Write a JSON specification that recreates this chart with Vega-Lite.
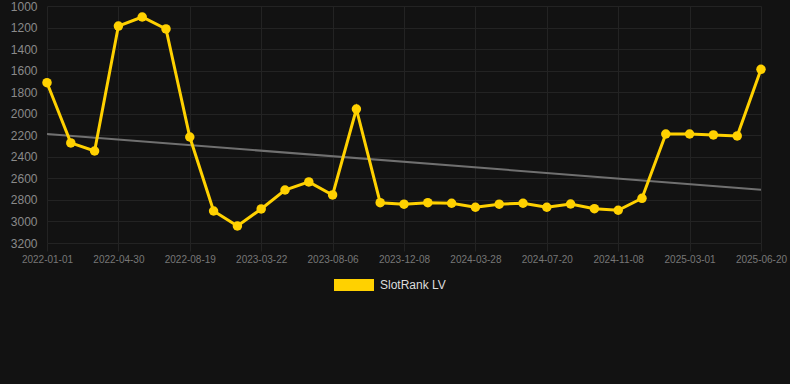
{
  "$schema": "https://vega.github.io/schema/vega-lite/v6.json",
  "width": 750,
  "height": 237,
  "autosize": "none",
  "padding": {"left": 40, "top": 6, "right": 0, "bottom": 141},
  "background": "#121212",
  "config": {
    "view": {"stroke": null},
    "font": "Liberation Sans"
  },
  "data": {
    "values": [
      {"date": "2022-01-01", "rank": 1712, "trend": 2188, "series": "SlotRank LV"},
      {"date": "2022-02-09", "rank": 2271, "trend": null, "series": "SlotRank LV"},
      {"date": "2022-03-20", "rank": 2346, "trend": null, "series": "SlotRank LV"},
      {"date": "2022-04-30", "rank": 1186, "trend": null, "series": "SlotRank LV"},
      {"date": "2022-06-06", "rank": 1102, "trend": null, "series": "SlotRank LV"},
      {"date": "2022-07-13", "rank": 1213, "trend": null, "series": "SlotRank LV"},
      {"date": "2022-08-19", "rank": 2216, "trend": null, "series": "SlotRank LV"},
      {"date": "2022-11-10", "rank": 2903, "trend": null, "series": "SlotRank LV"},
      {"date": "2023-01-15", "rank": 3042, "trend": null, "series": "SlotRank LV"},
      {"date": "2023-03-22", "rank": 2884, "trend": null, "series": "SlotRank LV"},
      {"date": "2023-05-06", "rank": 2708, "trend": null, "series": "SlotRank LV"},
      {"date": "2023-06-21", "rank": 2633, "trend": null, "series": "SlotRank LV"},
      {"date": "2023-08-06", "rank": 2754, "trend": null, "series": "SlotRank LV"},
      {"date": "2023-09-20", "rank": 1956, "trend": null, "series": "SlotRank LV"},
      {"date": "2023-10-25", "rank": 2826, "trend": null, "series": "SlotRank LV"},
      {"date": "2023-12-08", "rank": 2840, "trend": null, "series": "SlotRank LV"},
      {"date": "2024-01-20", "rank": 2826, "trend": null, "series": "SlotRank LV"},
      {"date": "2024-02-25", "rank": 2831, "trend": null, "series": "SlotRank LV"},
      {"date": "2024-03-28", "rank": 2868, "trend": null, "series": "SlotRank LV"},
      {"date": "2024-05-05", "rank": 2840, "trend": null, "series": "SlotRank LV"},
      {"date": "2024-06-12", "rank": 2831, "trend": null, "series": "SlotRank LV"},
      {"date": "2024-07-20", "rank": 2868, "trend": null, "series": "SlotRank LV"},
      {"date": "2024-08-25", "rank": 2838, "trend": null, "series": "SlotRank LV"},
      {"date": "2024-10-02", "rank": 2881, "trend": null, "series": "SlotRank LV"},
      {"date": "2024-11-08", "rank": 2896, "trend": null, "series": "SlotRank LV"},
      {"date": "2024-12-15", "rank": 2785, "trend": null, "series": "SlotRank LV"},
      {"date": "2025-01-22", "rank": 2188, "trend": null, "series": "SlotRank LV"},
      {"date": "2025-03-01", "rank": 2188, "trend": null, "series": "SlotRank LV"},
      {"date": "2025-04-05", "rank": 2197, "trend": null, "series": "SlotRank LV"},
      {"date": "2025-05-13", "rank": 2206, "trend": null, "series": "SlotRank LV"},
      {"date": "2025-06-20", "rank": 1588, "trend": 2705, "series": "SlotRank LV"}
    ]
  },
  "encoding": {
    "x": {
      "field": "date",
      "type": "ordinal",
      "sort": null,
      "scale": {
        "type": "point",
        "range": [7, 721],
        "padding": 0,
        "domain": ["2022-01-01", "2022-02-09", "2022-03-20", "2022-04-30", "2022-06-06", "2022-07-13", "2022-08-19", "2022-11-10", "2023-01-15", "2023-03-22", "2023-05-06", "2023-06-21", "2023-08-06", "2023-09-20", "2023-10-25", "2023-12-08", "2024-01-20", "2024-02-25", "2024-03-28", "2024-05-05", "2024-06-12", "2024-07-20", "2024-08-25", "2024-10-02", "2024-11-08", "2024-12-15", "2025-01-22", "2025-03-01", "2025-04-05", "2025-05-13", "2025-06-20"]
      },
      "axis": {
        "title": null,
        "values": ["2022-01-01", "2022-04-30", "2022-08-19", "2023-03-22", "2023-08-06", "2023-12-08", "2024-03-28", "2024-07-20", "2024-11-08", "2025-03-01", "2025-06-20"],
        "labelAngle": 0,
        "labelFontSize": 10,
        "labelColor": "#777777",
        "labelPadding": 3,
        "labelBaseline": "top",
        "labelOverlap": false,
        "domain": false,
        "ticks": true,
        "tickSize": 8,
        "tickColor": "#232323",
        "grid": true,
        "gridColor": "#232323",
        "gridWidth": 1
      }
    },
    "y": {
      "field": "rank",
      "type": "quantitative",
      "scale": {"domain": [1000, 3200], "reverse": true, "nice": false, "zero": false},
      "axis": {
        "title": null,
        "format": "d",
        "values": [1000, 1200, 1400, 1600, 1800, 2000, 2200, 2400, 2600, 2800, 3000, 3200],
        "labelFontSize": 12,
        "labelColor": "#8a8a8a",
        "labelPadding": 3,
        "labelOverlap": false,
        "labelBound": false,
        "domain": false,
        "ticks": false,
        "grid": true,
        "gridColor": "#232323",
        "gridWidth": 1
      }
    }
  },
  "layer": [
    {
      "mark": {"type": "line", "color": "#707070", "strokeWidth": 2, "invalid": "filter"},
      "encoding": {
        "y": {"field": "trend", "type": "quantitative"}
      }
    },
    {
      "mark": {"type": "line", "strokeWidth": 3},
      "encoding": {
        "color": {
          "field": "series",
          "type": "nominal",
          "scale": {"domain": ["SlotRank LV"], "range": ["#FFD100"]},
          "legend": {
            "title": null,
            "orient": "none",
            "legendX": 294,
            "legendY": 259,
            "direction": "horizontal",
            "symbolType": "M-1,-0.3H1V0.3H-1Z",
            "symbolSize": 1600,
            "symbolFillColor": "#FFD100",
            "symbolStrokeColor": "#FFD100",
            "symbolStrokeWidth": 0,
            "symbolOpacity": 1,
            "labelFontSize": 12,
            "labelColor": "#dddddd",
            "labelOffset": 6,
            "padding": 0
          }
        }
      }
    },
    {
      "mark": {"type": "circle", "size": 90, "opacity": 1, "color": "#FFD100"},
      "encoding": {}
    }
  ]
}
